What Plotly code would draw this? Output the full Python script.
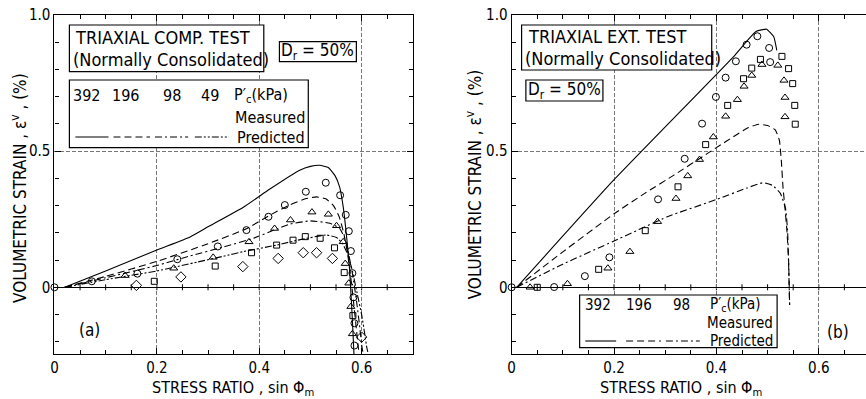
import plotly.graph_objects as go

# ---------------- data: (a) triaxial compression ----------------
comp_392_x = [0.0, 0.073, 0.162, 0.240, 0.319, 0.375, 0.418, 0.450, 0.491, 0.530, 0.558, 0.569, 0.575, 0.579, 0.582, 0.584, 0.586, 0.586]
comp_392_y = [0.0, 0.022, 0.050, 0.103, 0.150, 0.210, 0.259, 0.302, 0.351, 0.384, 0.338, 0.266, 0.206, 0.133, 0.052, -0.037, -0.132, -0.214]
comp_196_x = [0.138, 0.233, 0.310, 0.380, 0.430, 0.461, 0.503, 0.535, 0.551, 0.564, 0.568, 0.575, 0.579, 0.582]
comp_196_y = [0.043, 0.070, 0.110, 0.167, 0.216, 0.247, 0.276, 0.268, 0.226, 0.167, 0.087, 0.015, -0.071, -0.171]
comp_98_x = [0.195, 0.314, 0.385, 0.434, 0.466, 0.490, 0.519, 0.547, 0.566, 0.583]
comp_98_y = [0.022, 0.078, 0.127, 0.155, 0.173, 0.186, 0.180, 0.145, 0.054, -0.104]
comp_49_x = [0.160, 0.247, 0.368, 0.437, 0.486, 0.512, 0.543, 0.600]
comp_49_y = [0.007, 0.038, 0.076, 0.106, 0.127, 0.127, 0.106, -0.183]

pred_c392_x = [0.02, 0.1, 0.2, 0.265, 0.3, 0.369, 0.42, 0.479, 0.50, 0.518, 0.535, 0.548, 0.557, 0.564, 0.570, 0.576, 0.580, 0.583, 0.585]
pred_c392_y = [0.0, 0.06, 0.137, 0.185, 0.222, 0.294, 0.36, 0.43, 0.444, 0.448, 0.44, 0.41, 0.369, 0.296, 0.198, 0.08, -0.05, -0.16, -0.245]
pred_c196_x = [0.02, 0.1, 0.2, 0.3, 0.375, 0.418, 0.46, 0.49, 0.512, 0.53, 0.545, 0.556, 0.565, 0.572, 0.578, 0.584, 0.589, 0.593, 0.595]
pred_c196_y = [0.0, 0.04, 0.095, 0.16, 0.215, 0.262, 0.303, 0.325, 0.332, 0.325, 0.30, 0.26, 0.20, 0.13, 0.05, -0.05, -0.14, -0.21, -0.245]
pred_c98_x = [0.02, 0.1, 0.2, 0.265, 0.33, 0.389, 0.434, 0.46, 0.5, 0.538, 0.557, 0.567, 0.575, 0.583, 0.59, 0.596, 0.6, 0.603]
pred_c98_y = [0.0, 0.035, 0.08, 0.115, 0.148, 0.180, 0.214, 0.232, 0.244, 0.235, 0.216, 0.18, 0.12, 0.04, -0.05, -0.14, -0.21, -0.245]
pred_c49_x = [0.02, 0.1, 0.2, 0.28, 0.33, 0.369, 0.434, 0.48, 0.531, 0.551, 0.563, 0.573, 0.582, 0.591, 0.6, 0.606, 0.61, 0.613]
pred_c49_y = [0.0, 0.028, 0.06, 0.093, 0.114, 0.131, 0.155, 0.175, 0.192, 0.183, 0.16, 0.12, 0.06, -0.02, -0.1, -0.17, -0.22, -0.245]

# ---------------- data: (b) triaxial extension ----------------
ext_392_x = [0.0, 0.083, 0.143, 0.191, 0.286, 0.338, 0.372, 0.399, 0.418, 0.438, 0.459, 0.480, 0.503, 0.505]
ext_392_y = [0.0, 0.001, 0.041, 0.110, 0.323, 0.472, 0.601, 0.699, 0.770, 0.830, 0.891, 0.922, 0.879, 0.827]
ext_196_x = [0.036, 0.109, 0.188, 0.231, 0.285, 0.321, 0.344, 0.367, 0.394, 0.418, 0.441, 0.454, 0.469, 0.489, 0.520, 0.532, 0.534, 0.534]
ext_196_y = [0.0, 0.013, 0.070, 0.131, 0.241, 0.326, 0.409, 0.469, 0.552, 0.628, 0.689, 0.738, 0.778, 0.818, 0.815, 0.760, 0.697, 0.626]
ext_98_x = [0.05, 0.170, 0.261, 0.325, 0.379, 0.422, 0.453, 0.469, 0.486, 0.528, 0.541, 0.549, 0.553, 0.554]
ext_98_y = [0.0, 0.066, 0.208, 0.369, 0.524, 0.668, 0.766, 0.805, 0.837, 0.848, 0.803, 0.748, 0.668, 0.599]

pred_e392_x = [0.01, 0.2, 0.436, 0.460, 0.478, 0.498, 0.512, 0.518]
pred_e392_y = [0.0, 0.395, 0.852, 0.905, 0.94, 0.948, 0.92, 0.87]
pred_e196_x = [0.01, 0.1, 0.2, 0.26, 0.317, 0.382, 0.459, 0.482, 0.50, 0.515, 0.523, 0.527, 0.530, 0.534, 0.538, 0.541, 0.543]
pred_e196_y = [0.0, 0.13, 0.27, 0.345, 0.412, 0.491, 0.583, 0.599, 0.594, 0.578, 0.54, 0.46, 0.37, 0.29, 0.20, 0.10, -0.065]
pred_e98_x = [0.01, 0.1, 0.2, 0.304, 0.401, 0.46, 0.491, 0.51, 0.525, 0.535, 0.539, 0.541, 0.543]
pred_e98_y = [0.0, 0.085, 0.17, 0.259, 0.323, 0.365, 0.384, 0.374, 0.345, 0.29, 0.21, 0.09, -0.065]

x_tick_vals = [0, 0.2, 0.4, 0.6]
x_tick_text = ["0", "0.2", "0.4", "0.6"]
y_tick_vals = [0, 0.5, 1.0]
y_tick_text = ["0", "0.5", "1.0"]
zero_line_ticks = [0.05 * i for i in range(1, 14)]
pressures_comp = ["392", "196", "98", "49"]
pressures_ext = ["392", "196", "98"]

# ---------------- styling ----------------
FONT = "DejaVu Sans Condensed, Liberation Sans Narrow, DejaVu Sans, sans-serif"
W, H = 866, 399
T, B = 15, 45
PLOT_BOTTOM = H - B
PLOT_H = PLOT_BOTTOM - T
LEFT_X0, LEFT_X1 = 50.7, 410.7
RIGHT_X0 = 510.0
Y_RANGE = [-0.245, 1.0]
X_RANGE_L = [0, 0.7]
X_RANGE_R = [0, (W - RIGHT_X0) / (LEFT_X1 - LEFT_X0) * 0.7]

DASHES = {"392": "solid", "196": "7px,4px", "98": "7px,3px,2px,3px", "49": "7px,2px,2px,2px,2px,2px"}
SYMBOLS = {"392": ("circle-open", 7), "196": ("triangle-up-open", 7), "98": ("square-open", 6), "49": ("diamond-open", 8)}


def px(x):
    return x / W


def py(y):
    return (PLOT_BOTTOM - y) / PLOT_H


def data_y(pix_y):
    return Y_RANGE[1] - (pix_y - T) / PLOT_H * (Y_RANGE[1] - Y_RANGE[0])


def data_x_left(pix_x):
    return (pix_x - LEFT_X0) / (LEFT_X1 - LEFT_X0) * 0.7


def data_x_right(pix_x):
    return (pix_x - RIGHT_X0) / (LEFT_X1 - LEFT_X0) * 0.7


fig = go.Figure()


def add_markers(xs, ys, key, xa, ya):
    sym, size = SYMBOLS[key]
    fig.add_trace(go.Scatter(x=xs, y=ys, mode="markers", xaxis=xa, yaxis=ya,
                             marker=dict(symbol=sym, size=size, color="black", line=dict(width=1, color="black")),
                             cliponaxis=False, showlegend=False, hoverinfo="skip"))


def add_line(xs, ys, key, xa, ya):
    fig.add_trace(go.Scatter(x=xs, y=ys, mode="lines", xaxis=xa, yaxis=ya,
                             line=dict(color="black", width=1.1, dash=DASHES[key], shape="spline", smoothing=0.4),
                             showlegend=False, hoverinfo="skip"))


add_line(pred_c392_x, pred_c392_y, "392", "x", "y")
add_line(pred_c196_x, pred_c196_y, "196", "x", "y")
add_line(pred_c98_x, pred_c98_y, "98", "x", "y")
add_line(pred_c49_x, pred_c49_y, "49", "x", "y")
add_markers(comp_392_x, comp_392_y, "392", "x", "y")
add_markers(comp_196_x, comp_196_y, "196", "x", "y")
add_markers(comp_98_x, comp_98_y, "98", "x", "y")
add_markers(comp_49_x, comp_49_y, "49", "x", "y")

add_line(pred_e392_x, pred_e392_y, "392", "x2", "y2")
add_line(pred_e196_x, pred_e196_y, "196", "x2", "y2")
add_line(pred_e98_x, pred_e98_y, "98", "x2", "y2")
add_markers(ext_392_x, ext_392_y, "392", "x2", "y2")
add_markers(ext_196_x, ext_196_y, "196", "x2", "y2")
add_markers(ext_98_x, ext_98_y, "98", "x2", "y2")

shapes = []
annotations = []


def box(x0, y0, x1, y1):
    shapes.append(dict(type="rect", xref="paper", yref="paper", x0=px(x0), x1=px(x1), y0=py(y1), y1=py(y0),
                       line=dict(color="black", width=1.2), fillcolor="white", layer="above"))


def text(x, y, s, size=17, xanchor="left"):
    annotations.append(dict(xref="paper", yref="paper", x=px(x), y=py(y), text=s, showarrow=False,
                            xanchor=xanchor, yanchor="middle", font=dict(family=FONT, size=size, color="black")))


def sample_line(x0, x1, y, key):
    shapes.append(dict(type="line", xref="paper", yref="paper", x0=px(x0), x1=px(x1), y0=py(y), y1=py(y),
                       line=dict(color="black", width=1.1, dash=DASHES[key]), layer="above"))


# ---- panel (a) boxes ----
box(65.7, 25, 261, 71.7)
text(69, 38, "TRIAXIAL COMP. TEST", 18)
text(67, 60, "(Normally Consolidated)", 18)
box(276.7, 41.7, 354, 61.7)
text(315.3, 51.5, "D<sub>r</sub> = 50%", 17, "center")
box(65.7, 80, 305.7, 147.7)
for lab, cx in zip(pressures_comp, [82.5, 122.5, 168.5, 206.5]):
    text(cx, 95.5, lab, 16, "center")
text(229, 95.5, "P′<sub>c</sub>(kPa)", 16)
text(304, 117.3, "Measured", 16, "right")
text(304, 137, "Predicted", 16, "right")
for key, (a, b) in zip(pressures_comp, [(71.7, 105), (110, 146.7), (151.7, 185), (191.7, 226)]):
    sample_line(a, b, 137, key)
legend_mk_x_a = [81, 123.3, 168.3, 208.3]
for key, mx in zip(pressures_comp, legend_mk_x_a):
    sym, size = SYMBOLS[key]
    fig.add_trace(go.Scatter(x=[data_x_left(mx)], y=[data_y(117.3)], mode="markers", xaxis="x", yaxis="y",
                             marker=dict(symbol=sym, size=size - 1, color="black", line=dict(width=1, color="black")),
                             showlegend=False, hoverinfo="skip"))
text(73, 330, "(a)", 17)

# ---- panel (b) boxes ----
box(520, 25, 711, 70)
text(524, 36, "TRIAXIAL EXT. TEST", 18)
text(521, 58, "(Normally Consolidated)", 18)
box(524.3, 80, 601.7, 101)
text(563, 90.5, "D<sub>r</sub> = 50%", 17, "center")
box(578.3, 295, 776.7, 347.7)
for lab, cx in zip(pressures_ext, [596.7, 638.3, 680.5]):
    text(cx, 304.5, lab, 15, "center")
text(707, 304.5, "P′<sub>c</sub>(kPa)", 15)
text(775, 323, "Measured", 15, "right")
text(775, 340.5, "Predicted", 15, "right")
for key, (a, b) in zip(pressures_ext, [(584, 615), (625, 660), (665, 699)]):
    sample_line(a, b, 341, key)
legend_mk_x_b = [596.7, 636.7, 679.3]
for key, mx in zip(pressures_ext, legend_mk_x_b):
    sym, size = SYMBOLS[key]
    fig.add_trace(go.Scatter(x=[data_x_right(mx)], y=[data_y(323.5)], mode="markers", xaxis="x2", yaxis="y2",
                             marker=dict(symbol=sym, size=size - 1, color="black", line=dict(width=1, color="black")),
                             showlegend=False, hoverinfo="skip"))
text(838, 332, "(b)", 17, "center")

# ---- axis titles ----
text(230, 388, "STRESS RATIO , sin Φ<sub>m</sub>", 16, "center")
text(680, 388, "STRESS RATIO , sin Φ<sub>m</sub>", 16, "center")
for xpos, ypos in [(15, 188), (472.5, 184)]:
    annotations.append(dict(xref="paper", yref="paper", x=px(xpos), y=py(ypos),
                            text="VOLUMETRIC STRAIN , ε<sup>v</sup> , (%)", textangle=-90, showarrow=False,
                            xanchor="center", yanchor="middle", font=dict(family=FONT, size=17, color="black")))

# ---- ticks on the zero line ----
for xr, yr in [("x", "y"), ("x2", "y2")]:
    for tx in zero_line_ticks:
        shapes.append(dict(type="line", xref=xr, yref=yr, x0=tx, x1=tx, y0=-3, y1=3, ysizemode="pixel",
                           yanchor=0, line=dict(color="black", width=1), layer="below"))

axis_common = dict(showline=True, linecolor="black", linewidth=1.2, ticks="inside", ticklen=6,
                   tickcolor="black", tickwidth=1, showgrid=True, gridcolor="#777", gridwidth=0.8,
                   griddash="4px,2px", tickfont=dict(family=FONT, size=15, color="black"))

fig.update_layout(
    width=W, height=H, margin=dict(l=0, r=0, t=T, b=B),
    paper_bgcolor="white", plot_bgcolor="white", showlegend=False,
    xaxis=dict(domain=[px(LEFT_X0), px(LEFT_X1)], range=X_RANGE_L, tickvals=x_tick_vals, ticktext=x_tick_text,
               mirror="ticks", zeroline=False, anchor="y",
               minor=dict(dtick=0.05, ticks="inside", ticklen=4, tickcolor="black", showgrid=False), **axis_common),
    yaxis=dict(domain=[0, 1], range=Y_RANGE, tickvals=y_tick_vals, ticktext=y_tick_text,
               mirror="ticks", zeroline=True, zerolinecolor="black", zerolinewidth=1.2, anchor="x",
               minor=dict(dtick=0.1, ticks="inside", ticklen=4, tickcolor="black", showgrid=False), **axis_common),
    xaxis2=dict(domain=[px(RIGHT_X0), 1.0], range=X_RANGE_R, tickvals=x_tick_vals, ticktext=x_tick_text,
                mirror="ticks", zeroline=False, anchor="y2",
                minor=dict(dtick=0.05, ticks="inside", ticklen=4, tickcolor="black", showgrid=False), **axis_common),
    yaxis2=dict(domain=[0, 1], range=Y_RANGE, tickvals=y_tick_vals, ticktext=y_tick_text,
                mirror=False, zeroline=True, zerolinecolor="black", zerolinewidth=1.2, anchor="x2",
                minor=dict(dtick=0.1, ticks="inside", ticklen=4, tickcolor="black", showgrid=False), **axis_common),
    shapes=shapes, annotations=annotations,
)

fig.write_html("out.html")
